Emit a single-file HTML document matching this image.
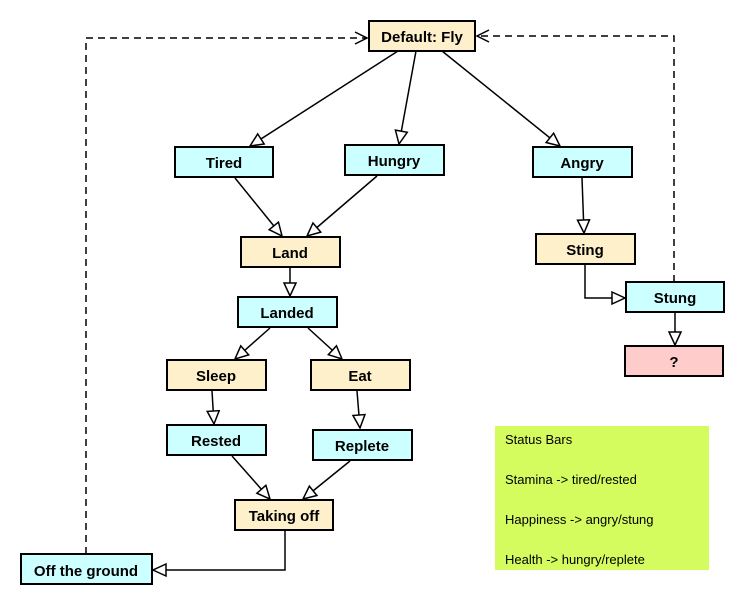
<!DOCTYPE html>
<html><head><meta charset="utf-8"><style>
body{margin:0;background:#fff}
svg{display:block;font-family:"Liberation Sans",Arial,sans-serif}
.b{stroke:#000;stroke-width:2}
.t{font-weight:bold;font-size:15px;text-anchor:middle}
.s{font-size:13px}
</style></head><body>
<svg width="745" height="606" viewBox="0 0 745 606">
<defs>
<marker id="h" markerUnits="userSpaceOnUse" markerWidth="16" markerHeight="16" refX="14" refY="7" orient="auto">
<path d="M1,1 L14,7 L1,13 Z" fill="#fff" stroke="#000" stroke-width="1.5"/>
</marker>
<marker id="o" markerUnits="userSpaceOnUse" markerWidth="16" markerHeight="16" refX="14" refY="7" orient="auto">
<path d="M2,1 L14,7 L2,13" fill="none" stroke="#000" stroke-width="1.5"/>
</marker>
</defs>
<g fill="none" stroke="#000" stroke-width="1.5">
<path d="M86,554 V38 H367" stroke-dasharray="7,5" marker-end="url(#o)"/>
<path d="M674,282 V36 H477" stroke-dasharray="7,5" marker-end="url(#o)"/>
<path d="M398,51 L250,146" marker-end="url(#h)"/>
<path d="M416,51 L399,144" marker-end="url(#h)"/>
<path d="M442,51 L560,146" marker-end="url(#h)"/>
<path d="M235,178 L282,236" marker-end="url(#h)"/>
<path d="M377,176 L307,236" marker-end="url(#h)"/>
<path d="M582,178 L584,233" marker-end="url(#h)"/>
<path d="M585,265 V298 H625" marker-end="url(#h)"/>
<path d="M675,313 V345" marker-end="url(#h)"/>
<path d="M290,268 V296" marker-end="url(#h)"/>
<path d="M270,328 L235,359" marker-end="url(#h)"/>
<path d="M308,328 L342,359" marker-end="url(#h)"/>
<path d="M212,391 L214,424" marker-end="url(#h)"/>
<path d="M357,391 L360,428" marker-end="url(#h)"/>
<path d="M232,456 L270,499" marker-end="url(#h)"/>
<path d="M350,461 L303,499" marker-end="url(#h)"/>
<path d="M285,531 V570 H153" marker-end="url(#h)"/>
</g>
<rect x="369" y="21" width="106" height="30" fill="#fff0cc" class="b"/><text x="422" y="42" class="t">Default: Fly</text>
<rect x="175" y="147" width="98" height="30" fill="#ccffff" class="b"/><text x="224" y="168" class="t">Tired</text>
<rect x="345" y="145" width="99" height="30" fill="#ccffff" class="b"/><text x="394" y="166" class="t">Hungry</text>
<rect x="533" y="147" width="99" height="30" fill="#ccffff" class="b"/><text x="582" y="168" class="t">Angry</text>
<rect x="536" y="234" width="99" height="30" fill="#fff0cc" class="b"/><text x="585" y="255" class="t">Sting</text>
<rect x="626" y="282" width="98" height="30" fill="#ccffff" class="b"/><text x="675" y="303" class="t">Stung</text>
<rect x="625" y="346" width="98" height="30" fill="#ffcccc" class="b"/><text x="674" y="367" class="t">?</text>
<rect x="241" y="237" width="99" height="30" fill="#fff0cc" class="b"/><text x="290" y="258" class="t">Land</text>
<rect x="238" y="297" width="99" height="30" fill="#ccffff" class="b"/><text x="287" y="318" class="t">Landed</text>
<rect x="167" y="360" width="99" height="30" fill="#fff0cc" class="b"/><text x="216" y="381" class="t">Sleep</text>
<rect x="311" y="360" width="99" height="30" fill="#fff0cc" class="b"/><text x="360" y="381" class="t">Eat</text>
<rect x="167" y="425" width="99" height="30" fill="#ccffff" class="b"/><text x="216" y="446" class="t">Rested</text>
<rect x="313" y="430" width="99" height="30" fill="#ccffff" class="b"/><text x="362" y="451" class="t">Replete</text>
<rect x="235" y="500" width="98" height="30" fill="#fff0cc" class="b"/><text x="284" y="521" class="t">Taking off</text>
<rect x="21" y="554" width="131" height="30" fill="#ccffff" class="b"/><text x="86" y="576" class="t">Off the ground</text>
<rect x="495" y="426" width="214" height="144" fill="#d4fc5f"/>
<text x="505" y="444" class="s">Status Bars</text>
<text x="505" y="484" class="s">Stamina -&gt; tired/rested</text>
<text x="505" y="524" class="s">Happiness -&gt; angry/stung</text>
<text x="505" y="564" class="s">Health -&gt; hungry/replete</text>
</svg>
</body></html>
